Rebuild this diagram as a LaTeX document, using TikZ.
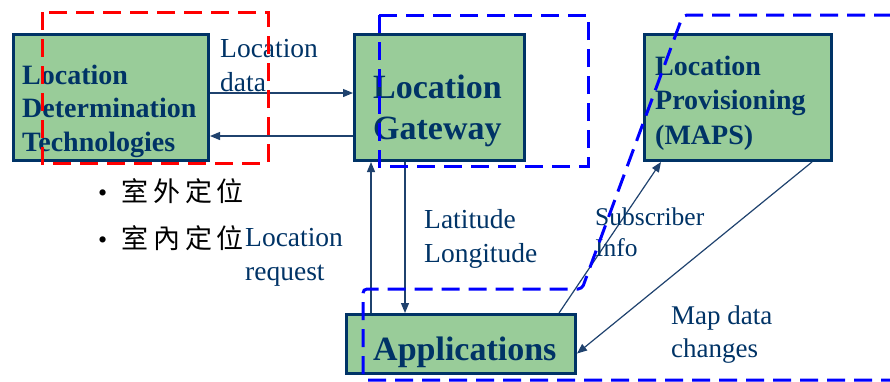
\documentclass[tikz,border=0pt]{standalone}
\usepackage{fontspec}
\setmainfont{Liberation Serif}
\newfontfamily\cjk[LetterSpace=18]{Noto Sans CJK TC}
\usepackage{tikz}
\usetikzlibrary{arrows.meta, calc}
\definecolor{navyblue}{RGB}{0, 51, 102}
\definecolor{boxgreen}{RGB}{153, 204, 153}
\definecolor{linkblue}{RGB}{31, 66, 110}

\begin{document}
\begin{tikzpicture}[x=1pt, y=-1pt,
    box/.style={draw=navyblue, line width=3pt, fill=boxgreen, inner sep=0pt},
    boxtext/.style={text=navyblue, font=\bfseries, align=left, anchor=west, inner sep=0pt},
    flowtext/.style={text=navyblue, align=left, anchor=west, inner sep=0pt},
    flow/.style={draw=linkblue, line width=1.2pt, -{Triangle[length=10pt, width=8pt]}},
    redzone/.style={draw=red, line width=3pt, dash pattern=on 18pt off 9pt},
    bluezone/.style={draw=blue, line width=3pt, dash pattern=on 18pt off 9pt}]
    \useasboundingbox (0,0) rectangle (890,381);

    % Boxes
    \node[box, minimum width=195pt, minimum height=126pt] (ldt) at (111,97.5) {};
    \node[box, minimum width=170pt, minimum height=126pt] (gateway) at (439.5,97.5) {};
    \node[box, minimum width=187pt, minimum height=126pt] (maps) at (738,97.5) {};
    \node[box, minimum width=229pt, minimum height=59pt] (apps) at (461,344) {};

    \node[boxtext, font=\fontsize{28}{33.5}\selectfont\bfseries] (ldttext) at (22,111) {Location\\Determination\\Technologies};
    \node[boxtext, font=\fontsize{34}{41}\selectfont\bfseries] (gwtext) at (373,111) {Location\\Gateway};
    \node[boxtext, font=\fontsize{28}{34.5}\selectfont\bfseries] (mapstext) at (655,103) {Location\\Provisioning\\(MAPS)};
    \node[boxtext, font=\fontsize{34}{40}\selectfont\bfseries] (appstext) at (373,352) {Applications};

    % Connectors
    \draw[flow] ([yshift=4.5pt]ldt.east) -- ([yshift=4.5pt]gateway.west);
    \draw[flow] ([yshift=-38.5pt]gateway.west) -- ([yshift=-38.5pt]ldt.east);
    \draw[flow] (apps.north -| 371,0) -- (gateway.south -| 371,0);
    \draw[flow] (gateway.south -| 405,0) -- (apps.north -| 405,0);
    \draw[flow] (apps.north -| 559,0) -- (maps.south -| 661,0);
    \draw[flow] (maps.south -| 812,0) -- ([yshift=-9.5pt]apps.east);

    % Labels
    \node[flowtext, font=\fontsize{27.5}{34}\selectfont] (datalabel) at (220,66) {Location\\data};
    \node[flowtext, font=\fontsize{27.5}{34}\selectfont] (latlabel) at (424,239) {Latitude\\Longitude};
    \node[flowtext, font=\fontsize{27.5}{34}\selectfont] (reqlabel) at (245,257) {Location\\request};
    \node[flowtext, font=\fontsize{25.5}{31}\selectfont] (sublabel) at (595,232) {Subscriber\\Info};
    \node[flowtext, font=\fontsize{27}{33}\selectfont] (maplabel) at (671,335) {Map data\\changes};

    % Indoor / outdoor
    \node[anchor=west, inner sep=0pt, font=\fontsize{26}{30}\selectfont] (outdoor) at (98,191) {\textbullet\hspace{14pt}{\cjk\fontsize{27}{30}\selectfont 室外定位}};
    \node[anchor=west, inner sep=0pt, font=\fontsize{26}{30}\selectfont] (indoor) at (98,238) {\textbullet\hspace{14pt}{\cjk\fontsize{27}{30}\selectfont 室內定位}};

    % Dashed zones
    \draw[redzone] (42,12) rectangle (268,163);
    \draw[bluezone] (379,15) rectangle (588,166);
    \draw[bluezone, rounded corners=4pt] (892,15) -- (683,15) -- (582,289) -- (363,289) -- (363,380) -- (892,380);
\end{tikzpicture}
\end{document}
